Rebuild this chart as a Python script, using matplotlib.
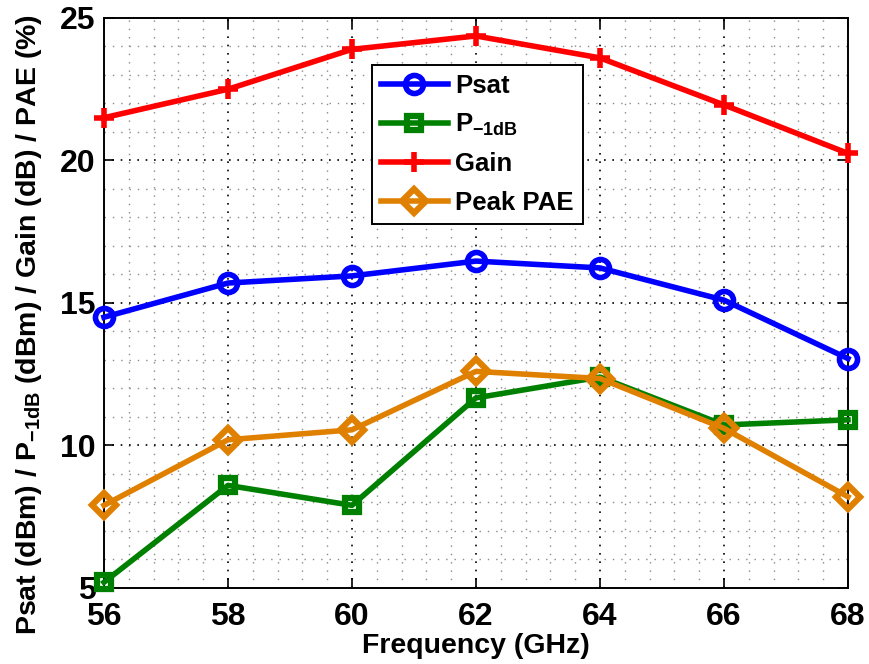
import matplotlib.pyplot as plt
from matplotlib.ticker import MultipleLocator

plt.rcParams['font.family'] = 'Liberation Sans'
plt.rcParams['font.weight'] = 'bold'
plt.rcParams['mathtext.fontset'] = 'custom'
plt.rcParams['mathtext.rm'] = 'Liberation Sans:bold'
plt.rcParams['mathtext.bf'] = 'Liberation Sans:bold'
plt.rcParams['mathtext.default'] = 'rm'

freq = [56, 58, 60, 62, 64, 66, 68]
psat = [14.5, 15.7, 15.95, 16.47, 16.23, 15.1, 13.05]
p1db = [5.2, 8.6, 7.9, 11.67, 12.4, 10.72, 10.9]
gain = [21.5, 22.5, 23.9, 24.37, 23.6, 21.95, 20.25]
pae = [7.9, 10.2, 10.55, 12.6, 12.35, 10.6, 8.2]

fig = plt.figure(figsize=(8.7, 6.64), dpi=100)
ax = fig.add_axes([0.1195, 0.1145, 0.8552, 0.8584])

kw = dict(lw=4.0, clip_on=False, zorder=3)
ax.plot(freq, psat, color='#0000ff', marker='o', ms=13, mew=4, mfc='none', label='Psat', **kw)
ax.plot(freq, p1db, color='#008000', marker='s', ms=10, mew=4.5, mfc='none', label=r'P$_{-1dB}$', **kw)
ax.plot(freq, gain, color='#ff0000', marker='+', ms=15, mew=4, label='Gain', **kw)
ax.plot(freq, pae, color='#e08000', marker='D', ms=12, mew=4.5, mfc='none', label='Peak PAE', **kw)

ax.set_xlim(56, 68)
ax.set_ylim(5, 25)
ax.xaxis.set_major_locator(MultipleLocator(2))
ax.xaxis.set_minor_locator(MultipleLocator(0.4))
ax.yaxis.set_major_locator(MultipleLocator(5))
ax.yaxis.set_minor_locator(MultipleLocator(1))
ax.grid(which='major', color='black', ls=(0, (1, 4)), lw=1.2)
ax.grid(which='minor', color='#8a8a8a', ls=(0, (1, 5)), lw=1.0)
ax.tick_params(which='both', direction='in', top=True, right=True, labelsize=23, width=1.2)
ax.tick_params(which='major', length=7)
ax.tick_params(which='minor', length=0)
ax.tick_params(axis='x', pad=10)
ax.tick_params(axis='y', pad=6)
for s in ax.spines.values():
    s.set_linewidth(1.4)

ax.set_xlabel('Frequency (GHz)', fontsize=20.5, fontweight='bold')
ax.xaxis.set_label_coords(0.5, -0.079)
ax.set_ylabel(r'Psat (dBm) / P$_{-1dB}$ (dBm) / Gain (dB) / PAE (%)', fontsize=20.5,
              fontweight='bold')
ax.yaxis.set_label_coords(-0.08, 0.463)

leg = ax.legend(loc='upper left', bbox_to_anchor=(0.360, 0.9175), borderaxespad=0,
                fontsize=18.5, fancybox=False, framealpha=1, edgecolor='black',
                handlelength=2.6, borderpad=0.35, labelspacing=0.55, handletextpad=0.3)
leg.get_frame().set_linewidth(1.4)

fig.savefig('out.png', dpi=100)
